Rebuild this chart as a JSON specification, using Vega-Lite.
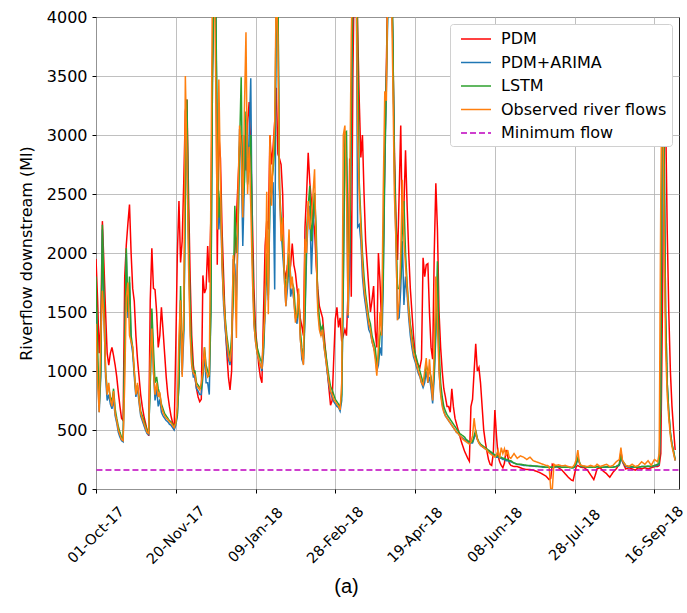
{
"$schema": "https://vega.github.io/schema/vega-lite/v6.json",
"width": 583,
"height": 472,
"autosize": "none",
"padding": {"left": 96, "top": 17, "right": 8, "bottom": 124},
"background": "white",
"config": {
  "font": "DejaVu Sans",
  "view": {"stroke": "#222", "strokeWidth": 1},
  "axis": {"labelFont": "DejaVu Sans", "labelFontSize": 16, "labelColor": "#000", "titleFont": "DejaVu Sans", "titleFontSize": 16, "titleFontWeight": "normal", "titleColor": "#000", "gridColor": "#b0b0b0", "gridWidth": 0.8, "tickColor": "#000", "tickSize": 4, "domain": false},
  "legend": {"orient": "top-right", "offset": 7, "fillColor": "white", "strokeColor": "#d0d0d0", "cornerRadius": 3, "padding": 5, "symbolType": "M-0.444,0H2.889", "symbolSize": 324, "symbolStrokeWidth": 1.5, "labelFont": "DejaVu Sans", "labelFontSize": 16, "labelColor": "#000", "rowPadding": 5.5, "labelOffset": 26, "labelLimit": 300}
},
"title": {"text": "(a)", "orient": "bottom", "anchor": "middle", "frame": "group", "dx": -41, "offset": 11, "font": "Liberation Sans", "fontSize": 20, "fontWeight": "normal", "color": "#000"},
"datasets": {
"minflow": [{"d": "2017-09-20", "m": 160}, {"d": "2018-10-10", "m": 160}],
"flow": [
{"d":"2017-10-01","p":1950,"a":1700,"l":1800,"o":1400},
{"d":"2017-10-02","p":1600,"a":1000,"l":1200,"o":900},
{"d":"2017-10-03","p":1150,"a":650,"l":700,"o":650},
{"d":"2017-10-04","p":1400,"a":950,"l":1000,"o":1300},
{"d":"2017-10-05","p":2270,"a":2200,"l":2240,"o":1680},
{"d":"2017-10-06","p":1900,"a":1500,"l":1600,"o":1450},
{"d":"2017-10-07","p":1500,"a":950,"l":1000,"o":1000},
{"d":"2017-10-08","p":1150,"a":750,"l":850,"o":800},
{"d":"2017-10-09","p":1050,"a":800,"l":850,"o":900},
{"d":"2017-10-10","p":1150,"a":720,"l":780,"o":760},
{"d":"2017-10-11","p":1200,"a":680,"l":740,"o":700},
{"d":"2017-10-12","p":1130,"a":760,"l":850,"o":830},
{"d":"2017-10-13","p":1050,"a":620,"l":680,"o":640},
{"d":"2017-10-14","p":950,"a":560,"l":600,"o":580},
{"d":"2017-10-15","p":820,"a":480,"l":530,"o":500},
{"d":"2017-10-16","p":700,"a":440,"l":480,"o":460},
{"d":"2017-10-17","p":600,"a":410,"l":440,"o":420},
{"d":"2017-10-18","p":580,"a":400,"l":430,"o":410},
{"d":"2017-10-19","p":1800,"a":1150,"l":1200,"o":900},
{"d":"2017-10-20","p":2070,"a":2000,"l":2040,"o":1620},
{"d":"2017-10-21","p":2250,"a":1450,"l":1500,"o":1750},
{"d":"2017-10-22","p":2410,"a":1750,"l":1800,"o":1300},
{"d":"2017-10-23","p":2000,"a":1250,"l":1300,"o":1250},
{"d":"2017-10-24","p":1700,"a":1150,"l":1200,"o":1200},
{"d":"2017-10-25","p":1590,"a":950,"l":1000,"o":1000},
{"d":"2017-10-26","p":1300,"a":780,"l":820,"o":800},
{"d":"2017-10-27","p":1100,"a":860,"l":880,"o":900},
{"d":"2017-10-28","p":950,"a":730,"l":780,"o":750},
{"d":"2017-10-29","p":800,"a":620,"l":660,"o":640},
{"d":"2017-10-30","p":700,"a":580,"l":620,"o":600},
{"d":"2017-10-31","p":620,"a":540,"l":580,"o":560},
{"d":"2017-11-01","p":560,"a":500,"l":540,"o":520},
{"d":"2017-11-02","p":500,"a":470,"l":500,"o":480},
{"d":"2017-11-03","p":450,"a":460,"l":480,"o":470},
{"d":"2017-11-04","p":1600,"a":900,"l":900,"o":1100},
{"d":"2017-11-05","p":2040,"a":1500,"l":1530,"o":1360},
{"d":"2017-11-06","p":1700,"a":1000,"l":1200,"o":1000},
{"d":"2017-11-07","p":1690,"a":750,"l":900,"o":800},
{"d":"2017-11-08","p":1500,"a":850,"l":950,"o":900},
{"d":"2017-11-09","p":1200,"a":700,"l":850,"o":780},
{"d":"2017-11-10","p":1300,"a":760,"l":800,"o":820},
{"d":"2017-11-11","p":1540,"a":650,"l":720,"o":700},
{"d":"2017-11-12","p":1350,"a":620,"l":680,"o":650},
{"d":"2017-11-13","p":1150,"a":600,"l":640,"o":620},
{"d":"2017-11-14","p":950,"a":580,"l":620,"o":600},
{"d":"2017-11-15","p":800,"a":570,"l":600,"o":590},
{"d":"2017-11-16","p":700,"a":550,"l":580,"o":570},
{"d":"2017-11-17","p":620,"a":540,"l":570,"o":560},
{"d":"2017-11-18","p":560,"a":520,"l":550,"o":540},
{"d":"2017-11-19","p":500,"a":500,"l":530,"o":520},
{"d":"2017-11-20","p":1200,"a":540,"l":560,"o":560},
{"d":"2017-11-21","p":2000,"a":620,"l":640,"o":700},
{"d":"2017-11-22","p":2440,"a":900,"l":900,"o":1300},
{"d":"2017-11-23","p":1920,"a":1600,"l":1720,"o":1600},
{"d":"2017-11-24","p":2100,"a":970,"l":1200,"o":950},
{"d":"2017-11-25","p":2600,"a":1300,"l":1350,"o":1500},
{"d":"2017-11-26","p":3200,"a":2450,"l":2500,"o":3500},
{"d":"2017-11-27","p":3300,"a":3200,"l":3300,"o":2800},
{"d":"2017-11-28","p":2500,"a":2100,"l":2200,"o":1900},
{"d":"2017-11-29","p":1800,"a":1400,"l":1500,"o":1300},
{"d":"2017-11-30","p":1300,"a":1050,"l":1150,"o":1050},
{"d":"2017-12-01","p":1050,"a":950,"l":1000,"o":980},
{"d":"2017-12-02","p":950,"a":950,"l":1000,"o":970},
{"d":"2017-12-03","p":850,"a":850,"l":900,"o":880},
{"d":"2017-12-04","p":780,"a":830,"l":880,"o":860},
{"d":"2017-12-05","p":740,"a":800,"l":860,"o":840},
{"d":"2017-12-06","p":760,"a":800,"l":850,"o":900},
{"d":"2017-12-07","p":1810,"a":950,"l":1000,"o":1000},
{"d":"2017-12-08","p":1660,"a":1150,"l":1200,"o":1200},
{"d":"2017-12-09","p":1700,"a":900,"l":1050,"o":1000},
{"d":"2017-12-10","p":2060,"a":900,"l":1000,"o":950},
{"d":"2017-12-11","p":1750,"a":800,"l":950,"o":970},
{"d":"2017-12-12","p":2300,"a":1500,"l":1500,"o":2500},
{"d":"2017-12-13","p":3600,"a":3500,"l":3500,"o":4300},
{"d":"2017-12-14","p":4300,"a":4400,"l":4400,"o":4500},
{"d":"2017-12-15","p":4200,"a":4100,"l":4200,"o":3500},
{"d":"2017-12-16","p":1900,"a":2900,"l":3000,"o":2200},
{"d":"2017-12-17","p":3000,"a":2200,"l":2300,"o":3470},
{"d":"2017-12-18","p":2800,"a":2450,"l":2530,"o":2600},
{"d":"2017-12-19","p":2200,"a":1900,"l":2000,"o":1900},
{"d":"2017-12-20","p":1800,"a":1550,"l":1650,"o":1600},
{"d":"2017-12-21","p":1400,"a":1350,"l":1450,"o":1400},
{"d":"2017-12-22","p":1150,"a":1200,"l":1300,"o":1250},
{"d":"2017-12-23","p":950,"a":1100,"l":1200,"o":1150},
{"d":"2017-12-24","p":840,"a":1050,"l":1100,"o":1080},
{"d":"2017-12-25","p":1000,"a":1200,"l":1300,"o":1200},
{"d":"2017-12-26","p":1800,"a":1950,"l":1600,"o":1980},
{"d":"2017-12-27","p":2000,"a":1900,"l":2400,"o":1800},
{"d":"2017-12-28","p":2300,"a":1600,"l":2000,"o":1280},
{"d":"2017-12-29","p":2600,"a":2100,"l":2200,"o":2500},
{"d":"2017-12-30","p":2900,"a":3050,"l":2900,"o":3080},
{"d":"2017-12-31","p":3000,"a":2800,"l":3490,"o":2900},
{"d":"2018-01-01","p":2500,"a":2060,"l":2400,"o":2300},
{"d":"2018-01-02","p":3000,"a":2600,"l":2600,"o":3200},
{"d":"2018-01-03","p":2700,"a":3100,"l":3200,"o":3870},
{"d":"2018-01-04","p":3100,"a":2600,"l":2580,"o":2500},
{"d":"2018-01-05","p":3280,"a":3000,"l":2800,"o":2900},
{"d":"2018-01-06","p":2900,"a":3480,"l":3000,"o":2400},
{"d":"2018-01-07","p":2300,"a":2000,"l":2000,"o":1800},
{"d":"2018-01-08","p":1700,"a":1400,"l":1500,"o":1400},
{"d":"2018-01-09","p":1350,"a":1250,"l":1300,"o":1250},
{"d":"2018-01-10","p":1200,"a":1150,"l":1200,"o":1150},
{"d":"2018-01-11","p":1050,"a":1100,"l":1150,"o":1100},
{"d":"2018-01-12","p":950,"a":1050,"l":1100,"o":1050},
{"d":"2018-01-13","p":900,"a":1000,"l":1070,"o":1020},
{"d":"2018-01-14","p":1500,"a":1150,"l":1200,"o":1300},
{"d":"2018-01-15","p":2060,"a":1500,"l":1600,"o":1500},
{"d":"2018-01-16","p":2270,"a":1900,"l":2000,"o":2520},
{"d":"2018-01-17","p":2200,"a":1600,"l":1640,"o":1480},
{"d":"2018-01-18","p":3000,"a":2400,"l":2500,"o":3000},
{"d":"2018-01-19","p":2750,"a":2500,"l":2600,"o":2400},
{"d":"2018-01-20","p":2900,"a":2600,"l":2700,"o":2800},
{"d":"2018-01-21","p":3110,"a":1690,"l":2900,"o":3100},
{"d":"2018-01-22","p":3400,"a":4100,"l":4200,"o":4300},
{"d":"2018-01-23","p":2840,"a":4200,"l":4300,"o":3800},
{"d":"2018-01-24","p":2800,"a":2500,"l":2550,"o":2600},
{"d":"2018-01-25","p":2750,"a":2200,"l":2300,"o":2100},
{"d":"2018-01-26","p":2500,"a":2000,"l":2100,"o":2300},
{"d":"2018-01-27","p":1860,"a":1800,"l":1850,"o":1800},
{"d":"2018-01-28","p":1780,"a":1550,"l":1700,"o":1550},
{"d":"2018-01-29","p":1900,"a":1700,"l":1750,"o":1900},
{"d":"2018-01-30","p":1800,"a":1950,"l":2000,"o":2200},
{"d":"2018-01-31","p":1900,"a":1630,"l":1800,"o":1700},
{"d":"2018-02-01","p":2080,"a":1700,"l":1750,"o":1800},
{"d":"2018-02-02","p":1900,"a":1600,"l":1700,"o":1600},
{"d":"2018-02-03","p":1830,"a":1450,"l":1500,"o":1410},
{"d":"2018-02-04","p":1700,"a":1400,"l":1450,"o":1500},
{"d":"2018-02-05","p":1600,"a":1600,"l":1650,"o":1700},
{"d":"2018-02-06","p":1450,"a":1300,"l":1350,"o":1270},
{"d":"2018-02-07","p":1380,"a":1100,"l":1200,"o":1150},
{"d":"2018-02-08","p":1300,"a":1060,"l":1100,"o":1050},
{"d":"2018-02-09","p":2220,"a":1450,"l":1500,"o":2120},
{"d":"2018-02-10","p":2500,"a":2000,"l":2200,"o":2000},
{"d":"2018-02-11","p":2850,"a":2300,"l":2400,"o":2440},
{"d":"2018-02-12","p":2600,"a":2400,"l":2570,"o":2200},
{"d":"2018-02-13","p":2440,"a":1820,"l":2100,"o":2300},
{"d":"2018-02-14","p":2300,"a":2200,"l":2300,"o":2500},
{"d":"2018-02-15","p":2200,"a":2500,"l":2510,"o":2710},
{"d":"2018-02-16","p":1900,"a":2100,"l":2200,"o":2000},
{"d":"2018-02-17","p":1700,"a":1550,"l":1600,"o":1500},
{"d":"2018-02-18","p":1550,"a":1400,"l":1450,"o":1350},
{"d":"2018-02-19","p":1500,"a":1300,"l":1350,"o":1300},
{"d":"2018-02-20","p":1450,"a":1350,"l":1380,"o":1350},
{"d":"2018-02-21","p":1300,"a":1200,"l":1250,"o":1200},
{"d":"2018-02-22","p":1150,"a":1100,"l":1150,"o":1100},
{"d":"2018-02-23","p":1000,"a":980,"l":1050,"o":1000},
{"d":"2018-02-24","p":850,"a":880,"l":950,"o":900},
{"d":"2018-02-25","p":710,"a":820,"l":870,"o":830},
{"d":"2018-02-26","p":750,"a":780,"l":840,"o":800},
{"d":"2018-02-27","p":1100,"a":740,"l":800,"o":760},
{"d":"2018-02-28","p":1440,"a":720,"l":760,"o":740},
{"d":"2018-03-01","p":1540,"a":700,"l":740,"o":720},
{"d":"2018-03-02","p":1370,"a":690,"l":720,"o":700},
{"d":"2018-03-03","p":1450,"a":660,"l":690,"o":670},
{"d":"2018-03-04","p":1250,"a":750,"l":800,"o":900},
{"d":"2018-03-05","p":1300,"a":1700,"l":1800,"o":3000},
{"d":"2018-03-06","p":1350,"a":2900,"l":3020,"o":3080},
{"d":"2018-03-07","p":1300,"a":2800,"l":3030,"o":2500},
{"d":"2018-03-08","p":1680,"a":1450,"l":2000,"o":1470},
{"d":"2018-03-09","p":2800,"a":1900,"l":2000,"o":2500},
{"d":"2018-03-10","p":1630,"a":3100,"l":3230,"o":3840},
{"d":"2018-03-11","p":3500,"a":4200,"l":4300,"o":4500},
{"d":"2018-03-12","p":4500,"a":4700,"l":4800,"o":5000},
{"d":"2018-03-13","p":4600,"a":4600,"l":4800,"o":4500},
{"d":"2018-03-14","p":3900,"a":2220,"l":3800,"o":3000},
{"d":"2018-03-15","p":3290,"a":2240,"l":2600,"o":2500},
{"d":"2018-03-16","p":2810,"a":2100,"l":2300,"o":2200},
{"d":"2018-03-17","p":3000,"a":1800,"l":2000,"o":1900},
{"d":"2018-03-18","p":2500,"a":1650,"l":1800,"o":1700},
{"d":"2018-03-19","p":2100,"a":1550,"l":1650,"o":1600},
{"d":"2018-03-20","p":1900,"a":1450,"l":1550,"o":1500},
{"d":"2018-03-21","p":1700,"a":1350,"l":1450,"o":1400},
{"d":"2018-03-22","p":1500,"a":1320,"l":1400,"o":1350},
{"d":"2018-03-23","p":1600,"a":1250,"l":1300,"o":1250},
{"d":"2018-03-24","p":1720,"a":1200,"l":1250,"o":1200},
{"d":"2018-03-25","p":1340,"a":1150,"l":1200,"o":1100},
{"d":"2018-03-26","p":1200,"a":1000,"l":1050,"o":960},
{"d":"2018-03-27","p":2000,"a":1050,"l":1100,"o":1200},
{"d":"2018-03-28","p":1760,"a":1200,"l":1300,"o":1500},
{"d":"2018-03-29","p":1400,"a":1130,"l":1350,"o":1300},
{"d":"2018-03-30","p":2000,"a":1700,"l":1800,"o":2500},
{"d":"2018-03-31","p":2800,"a":2700,"l":2800,"o":3370},
{"d":"2018-04-01","p":3600,"a":3400,"l":3500,"o":3290},
{"d":"2018-04-02","p":4400,"a":4100,"l":4200,"o":4500},
{"d":"2018-04-03","p":4800,"a":4700,"l":4800,"o":5000},
{"d":"2018-04-04","p":4500,"a":4500,"l":4600,"o":4400},
{"d":"2018-04-05","p":3800,"a":3850,"l":3900,"o":3500},
{"d":"2018-04-06","p":2900,"a":2700,"l":2800,"o":2500},
{"d":"2018-04-07","p":2300,"a":2100,"l":2200,"o":2100},
{"d":"2018-04-08","p":1940,"a":1440,"l":1700,"o":1430},
{"d":"2018-04-09","p":2500,"a":1450,"l":1700,"o":1600},
{"d":"2018-04-10","p":3080,"a":1700,"l":1800,"o":2000},
{"d":"2018-04-11","p":2160,"a":2100,"l":2200,"o":2620},
{"d":"2018-04-12","p":2400,"a":1560,"l":2440,"o":2100},
{"d":"2018-04-13","p":2870,"a":1800,"l":2000,"o":1900},
{"d":"2018-04-14","p":2400,"a":1650,"l":1740,"o":1700},
{"d":"2018-04-15","p":2000,"a":1450,"l":1550,"o":1500},
{"d":"2018-04-16","p":1700,"a":1300,"l":1400,"o":1350},
{"d":"2018-04-17","p":1500,"a":1200,"l":1300,"o":1250},
{"d":"2018-04-18","p":1300,"a":1120,"l":1200,"o":1150},
{"d":"2018-04-19","p":1150,"a":1080,"l":1150,"o":1100},
{"d":"2018-04-20","p":1080,"a":1030,"l":1100,"o":1050},
{"d":"2018-04-21","p":1050,"a":980,"l":1050,"o":1000},
{"d":"2018-04-22","p":1030,"a":950,"l":1000,"o":960},
{"d":"2018-04-23","p":1100,"a":900,"l":950,"o":900},
{"d":"2018-04-24","p":1960,"a":860,"l":900,"o":880},
{"d":"2018-04-25","p":1800,"a":900,"l":950,"o":1000},
{"d":"2018-04-26","p":1900,"a":1000,"l":1050,"o":1110},
{"d":"2018-04-27","p":1910,"a":900,"l":1000,"o":900},
{"d":"2018-04-28","p":1500,"a":950,"l":1000,"o":1100},
{"d":"2018-04-29","p":1200,"a":850,"l":950,"o":900},
{"d":"2018-04-30","p":1100,"a":725,"l":800,"o":750},
{"d":"2018-05-01","p":2000,"a":950,"l":1000,"o":1200},
{"d":"2018-05-02","p":2590,"a":1300,"l":1400,"o":1800},
{"d":"2018-05-03","p":2200,"a":1800,"l":1930,"o":1400},
{"d":"2018-05-04","p":1500,"a":1000,"l":1200,"o":1000},
{"d":"2018-05-05","p":1200,"a":820,"l":900,"o":800},
{"d":"2018-05-06","p":1000,"a":720,"l":780,"o":700},
{"d":"2018-05-07","p":850,"a":660,"l":700,"o":650},
{"d":"2018-05-08","p":780,"a":620,"l":660,"o":620},
{"d":"2018-05-09","p":700,"a":600,"l":630,"o":600},
{"d":"2018-05-10","p":700,"a":580,"l":610,"o":580},
{"d":"2018-05-11","p":650,"a":560,"l":590,"o":560},
{"d":"2018-05-12","p":850,"a":540,"l":570,"o":540},
{"d":"2018-05-13","p":700,"a":520,"l":550,"o":520},
{"d":"2018-05-14","p":600,"a":500,"l":530,"o":500},
{"d":"2018-05-15","p":550,"a":480,"l":510,"o":480},
{"d":"2018-05-16","p":500,"a":470,"l":490,"o":470},
{"d":"2018-05-17","p":450,"a":450,"l":470,"o":450},
{"d":"2018-05-18","p":400,"a":440,"l":460,"o":440},
{"d":"2018-05-19","p":360,"a":430,"l":450,"o":420},
{"d":"2018-05-20","p":320,"a":420,"l":440,"o":410},
{"d":"2018-05-21","p":290,"a":410,"l":420,"o":400},
{"d":"2018-05-22","p":260,"a":400,"l":410,"o":390},
{"d":"2018-05-23","p":235,"a":390,"l":400,"o":380},
{"d":"2018-05-24","p":700,"a":390,"l":395,"o":400},
{"d":"2018-05-25","p":760,"a":390,"l":400,"o":450},
{"d":"2018-05-26","p":1000,"a":430,"l":450,"o":600},
{"d":"2018-05-27","p":1230,"a":470,"l":500,"o":480},
{"d":"2018-05-28","p":1000,"a":420,"l":430,"o":420},
{"d":"2018-05-29","p":1030,"a":390,"l":400,"o":390},
{"d":"2018-05-30","p":900,"a":370,"l":380,"o":370},
{"d":"2018-05-31","p":700,"a":360,"l":370,"o":360},
{"d":"2018-06-01","p":500,"a":350,"l":360,"o":350},
{"d":"2018-06-02","p":400,"a":340,"l":350,"o":340},
{"d":"2018-06-03","p":320,"a":330,"l":340,"o":330},
{"d":"2018-06-04","p":250,"a":320,"l":330,"o":310},
{"d":"2018-06-05","p":210,"a":310,"l":320,"o":300},
{"d":"2018-06-06","p":200,"a":300,"l":310,"o":290},
{"d":"2018-06-07","p":300,"a":290,"l":300,"o":280},
{"d":"2018-06-08","p":670,"a":280,"l":290,"o":270},
{"d":"2018-06-09","p":450,"a":270,"l":280,"o":290},
{"d":"2018-06-10","p":280,"a":270,"l":280,"o":330},
{"d":"2018-06-11","p":230,"a":260,"l":270,"o":260},
{"d":"2018-06-12","p":200,"a":260,"l":270,"o":350},
{"d":"2018-06-13","p":180,"a":250,"l":260,"o":300},
{"d":"2018-06-14","p":220,"a":250,"l":260,"o":340},
{"d":"2018-06-15","p":330,"a":240,"l":250,"o":280},
{"d":"2018-06-16","p":280,"a":240,"l":250,"o":330},
{"d":"2018-06-17","p":220,"a":230,"l":240,"o":270},
{"d":"2018-06-18","p":200,"a":230,"l":240,"o":260},
{"d":"2018-06-20","p":190,"a":220,"l":220,"o":300},
{"d":"2018-06-22","p":190,"a":210,"l":210,"o":260},
{"d":"2018-06-24","p":180,"a":205,"l":210,"o":280},
{"d":"2018-06-26","p":170,"a":200,"l":205,"o":270},
{"d":"2018-06-28","p":165,"a":200,"l":200,"o":250},
{"d":"2018-06-30","p":165,"a":195,"l":200,"o":270},
{"d":"2018-07-02","p":160,"a":195,"l":195,"o":240},
{"d":"2018-07-04","p":150,"a":190,"l":195,"o":230},
{"d":"2018-07-06","p":140,"a":190,"l":190,"o":220},
{"d":"2018-07-08","p":125,"a":185,"l":190,"o":210},
{"d":"2018-07-10","p":110,"a":185,"l":185,"o":200},
{"d":"2018-07-11","p":95,"a":185,"l":185,"o":200},
{"d":"2018-07-12","p":80,"a":185,"l":185,"o":190},
{"d":"2018-07-13","p":90,"a":185,"l":185,"o":0},
{"d":"2018-07-14","p":210,"a":185,"l":185,"o":0},
{"d":"2018-07-15","p":200,"a":185,"l":190,"o":210},
{"d":"2018-07-16","p":195,"a":185,"l":190,"o":200},
{"d":"2018-07-18","p":180,"a":190,"l":190,"o":205},
{"d":"2018-07-20","p":160,"a":185,"l":185,"o":195},
{"d":"2018-07-22","p":130,"a":185,"l":185,"o":200},
{"d":"2018-07-24","p":100,"a":185,"l":185,"o":190},
{"d":"2018-07-26","p":75,"a":180,"l":180,"o":185},
{"d":"2018-07-27","p":70,"a":180,"l":180,"o":190},
{"d":"2018-07-28","p":130,"a":185,"l":190,"o":210},
{"d":"2018-07-29","p":190,"a":210,"l":220,"o":250},
{"d":"2018-07-30","p":200,"a":250,"l":265,"o":330},
{"d":"2018-07-31","p":190,"a":220,"l":230,"o":220},
{"d":"2018-08-01","p":185,"a":190,"l":195,"o":200},
{"d":"2018-08-03","p":180,"a":190,"l":190,"o":195},
{"d":"2018-08-05","p":160,"a":185,"l":185,"o":190},
{"d":"2018-08-07","p":120,"a":185,"l":185,"o":200},
{"d":"2018-08-09","p":80,"a":185,"l":185,"o":190},
{"d":"2018-08-10","p":120,"a":185,"l":185,"o":195},
{"d":"2018-08-11","p":170,"a":190,"l":190,"o":210},
{"d":"2018-08-13","p":180,"a":185,"l":185,"o":190},
{"d":"2018-08-15","p":150,"a":185,"l":185,"o":200},
{"d":"2018-08-17","p":130,"a":185,"l":190,"o":210},
{"d":"2018-08-19","p":100,"a":185,"l":185,"o":190},
{"d":"2018-08-21","p":140,"a":185,"l":185,"o":200},
{"d":"2018-08-23","p":170,"a":190,"l":190,"o":230},
{"d":"2018-08-25","p":210,"a":200,"l":210,"o":250},
{"d":"2018-08-26","p":320,"a":260,"l":280,"o":350},
{"d":"2018-08-27","p":230,"a":230,"l":240,"o":240},
{"d":"2018-08-29","p":170,"a":190,"l":200,"o":200},
{"d":"2018-08-31","p":180,"a":185,"l":190,"o":190},
{"d":"2018-09-02","p":170,"a":185,"l":190,"o":210},
{"d":"2018-09-04","p":160,"a":185,"l":185,"o":190},
{"d":"2018-09-06","p":180,"a":185,"l":185,"o":200},
{"d":"2018-09-08","p":170,"a":190,"l":190,"o":230},
{"d":"2018-09-10","p":180,"a":190,"l":190,"o":210},
{"d":"2018-09-12","p":170,"a":190,"l":195,"o":240},
{"d":"2018-09-14","p":180,"a":190,"l":190,"o":200},
{"d":"2018-09-16","p":190,"a":195,"l":200,"o":250},
{"d":"2018-09-18","p":190,"a":200,"l":210,"o":230},
{"d":"2018-09-19","p":200,"a":210,"l":220,"o":300},
{"d":"2018-09-20","p":300,"a":700,"l":800,"o":2500},
{"d":"2018-09-21","p":1500,"a":3450,"l":3550,"o":3800},
{"d":"2018-09-22","p":3000,"a":3000,"l":3000,"o":2200},
{"d":"2018-09-23","p":3200,"a":1500,"l":1500,"o":1200},
{"d":"2018-09-24","p":2200,"a":900,"l":900,"o":800},
{"d":"2018-09-25","p":1500,"a":650,"l":650,"o":600},
{"d":"2018-09-26","p":1000,"a":480,"l":480,"o":450},
{"d":"2018-09-27","p":700,"a":380,"l":380,"o":360},
{"d":"2018-09-28","p":500,"a":320,"l":320,"o":300},
{"d":"2018-09-29","p":330,"a":240,"l":250,"o":240}
]
},
"encoding": {
  "x": {"field": "d", "type": "temporal",
        "scale": {"type": "utc", "domain": [1506816000000, 1538386560000]},
        "axis": {"title": null, "values": [1506816000000, 1511136000000, 1515456000000, 1519776000000, 1524096000000, 1528416000000, 1532736000000, 1537056000000],
                 "format": "%d-%b-%y", "labelFontSize": 14.5, "labelAngle": -45, "labelAlign": "center", "labelBaseline": "middle", "labelPadding": 42, "labelOverlap": false, "labelBound": false, "labelFlush": false}},
  "y": {"field": "v", "type": "quantitative",
        "scale": {"domain": [0, 4000], "nice": false, "zero": false},
        "axis": {"title": "Riverflow downstream (Ml)", "format": "d", "values": [0, 500, 1000, 1500, 2000, 2500, 3000, 3500, 4000], "labelPadding": 5, "titlePadding": 12}},
  "color": {"field": "k", "type": "nominal",
            "scale": {"domain": ["p", "a", "l", "o", "m"], "range": ["#ff0000", "#1f77b4", "#2ca02c", "#ff7f0e", "#bf00bf"]},
            "legend": {"title": null, "labelExpr": "{'p': 'PDM', 'a': 'PDM+ARIMA', 'l': 'LSTM', 'o': 'Observed river flows', 'm': 'Minimum flow'}[datum.label]"}},
  "strokeDash": {"field": "k", "type": "nominal",
            "scale": {"domain": ["p", "a", "l", "o", "m"], "range": [[1, 0], [1, 0], [1, 0], [1, 0], [6, 3]]},
            "legend": {"title": null, "labelExpr": "{'p': 'PDM', 'a': 'PDM+ARIMA', 'l': 'LSTM', 'o': 'Observed river flows', 'm': 'Minimum flow'}[datum.label]"}}
},
"layer": [
  {"data": {"name": "flow"}, "transform": [{"fold": ["p"], "as": ["k", "v"]}], "mark": {"type": "line", "clip": true, "strokeWidth": 1.5}},
  {"data": {"name": "flow"}, "transform": [{"fold": ["a"], "as": ["k", "v"]}], "mark": {"type": "line", "clip": true, "strokeWidth": 1.5}},
  {"data": {"name": "flow"}, "transform": [{"fold": ["l"], "as": ["k", "v"]}], "mark": {"type": "line", "clip": true, "strokeWidth": 1.5}},
  {"data": {"name": "flow"}, "transform": [{"fold": ["o"], "as": ["k", "v"]}], "mark": {"type": "line", "clip": true, "strokeWidth": 1.5}},
  {"data": {"name": "minflow"}, "transform": [{"fold": ["m"], "as": ["k", "v"]}], "mark": {"type": "line", "clip": true, "strokeWidth": 1.5}}
]
}
